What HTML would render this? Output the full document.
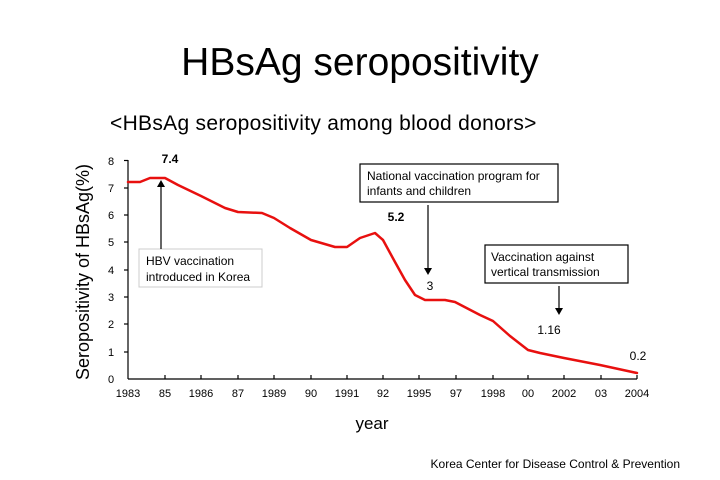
<!DOCTYPE html>
<html><head><style>
body{margin:0;background:#fff;}
svg{display:block;font-family:"Liberation Sans",sans-serif;}
</style></head><body>
<svg width="720" height="480" viewBox="0 0 720 480">
<text x="360" y="75" text-anchor="middle" font-size="39">HBsAg seropositivity</text>
<text x="110" y="130" font-size="21" letter-spacing="0.3">&lt;HBsAg seropositivity  among blood donors&gt;</text>
<text transform="translate(89,272) rotate(-90)" text-anchor="middle" font-size="18">Seropositivity of HBsAg(%)</text>
<text x="372" y="429" text-anchor="middle" font-size="17">year</text>
<text x="680" y="468" text-anchor="end" font-size="12">Korea Center for Disease Control &amp; Prevention</text>
<g stroke="#000" stroke-width="1.2">
<line x1="128" y1="160" x2="128" y2="379"/>
<line x1="128" y1="379" x2="637" y2="379"/>
<line x1="124" y1="160.5" x2="128" y2="160.5"/>
<line x1="124" y1="188" x2="128" y2="188"/>
<line x1="124" y1="215" x2="128" y2="215"/>
<line x1="124" y1="242" x2="128" y2="242"/>
<line x1="124" y1="270" x2="128" y2="270"/>
<line x1="124" y1="297" x2="128" y2="297"/>
<line x1="124" y1="324" x2="128" y2="324"/>
<line x1="124" y1="352" x2="128" y2="352"/>
<g>
<line x1="165" y1="375" x2="165" y2="379"/><line x1="201" y1="375" x2="201" y2="379"/><line x1="238" y1="375" x2="238" y2="379"/><line x1="274" y1="375" x2="274" y2="379"/><line x1="311" y1="375" x2="311" y2="379"/><line x1="347" y1="375" x2="347" y2="379"/><line x1="383" y1="375" x2="383" y2="379"/><line x1="419" y1="375" x2="419" y2="379"/><line x1="456" y1="375" x2="456" y2="379"/><line x1="493" y1="375" x2="493" y2="379"/><line x1="528" y1="375" x2="528" y2="379"/><line x1="564" y1="375" x2="564" y2="379"/><line x1="601" y1="375" x2="601" y2="379"/><line x1="637" y1="375" x2="637" y2="379"/>
</g></g>
<g font-size="11" text-anchor="middle">
<text x="111" y="165">8</text><text x="111" y="192">7</text><text x="111" y="219">6</text><text x="111" y="246">5</text><text x="111" y="274">4</text><text x="111" y="301">3</text><text x="111" y="328">2</text><text x="111" y="356">1</text><text x="111" y="383">0</text>
<text x="128" y="397">1983</text><text x="165" y="397">85</text><text x="201" y="397">1986</text><text x="238" y="397">87</text><text x="274" y="397">1989</text><text x="311" y="397">90</text><text x="347" y="397">1991</text><text x="383" y="397">92</text><text x="419" y="397">1995</text><text x="456" y="397">97</text><text x="493" y="397">1998</text><text x="528" y="397">00</text><text x="564" y="397">2002</text><text x="601" y="397">03</text><text x="637" y="397">2004</text>
</g>
<path d="M128,182 L140,182 L150,178 L165,178 L178,185 L201,196 L225,208 L238,212 L262,213 L274,218 L290,228 L311,240 L335,247 L347,247 L360,238 L375,233 L383,240 L395,262 L405,280 L415,295 L425,300 L445,300 L455,302 L480,315 L493,321 L510,336 L528,350 L540,353 L564,358 L600,365 L637,373" fill="none" stroke="#e8100f" stroke-width="2.5" stroke-linejoin="round" stroke-linecap="round"/>
<g font-size="12" font-weight="bold" text-anchor="middle">
<text x="170" y="163">7.4</text><text x="396" y="221">5.2</text><text x="430" y="290" font-weight="normal">3</text><text x="549" y="334" font-weight="normal">1.16</text><text x="638" y="360" font-weight="normal">0.2</text>
</g>
<rect x="139" y="249" width="123" height="38" fill="#fff" stroke="#ccc"/>
<text x="146" y="265" font-size="12">HBV vaccination</text>
<text x="146" y="281" font-size="12">introduced in Korea</text>
<rect x="360" y="164" width="198" height="38" fill="#fff" stroke="#000" stroke-width="1.2"/>
<text x="367" y="180" font-size="12">National vaccination program for</text>
<text x="367" y="195" font-size="12">infants and children</text>
<rect x="485" y="245" width="143" height="38" fill="#fff" stroke="#000" stroke-width="1.2"/>
<text x="491" y="261" font-size="12">Vaccination against</text>
<text x="491" y="276" font-size="12">vertical transmission</text>
<g stroke="#000" stroke-width="1.2">
<line x1="161" y1="249" x2="161" y2="186"/>
<line x1="428" y1="205" x2="428" y2="268"/>
<line x1="559" y1="286" x2="559" y2="308"/>
</g>
<polygon points="157,187 165,187 161,180" fill="#000"/>
<polygon points="424,268 432,268 428,275" fill="#000"/>
<polygon points="555,308 563,308 559,315" fill="#000"/>
</svg>
</body></html>
